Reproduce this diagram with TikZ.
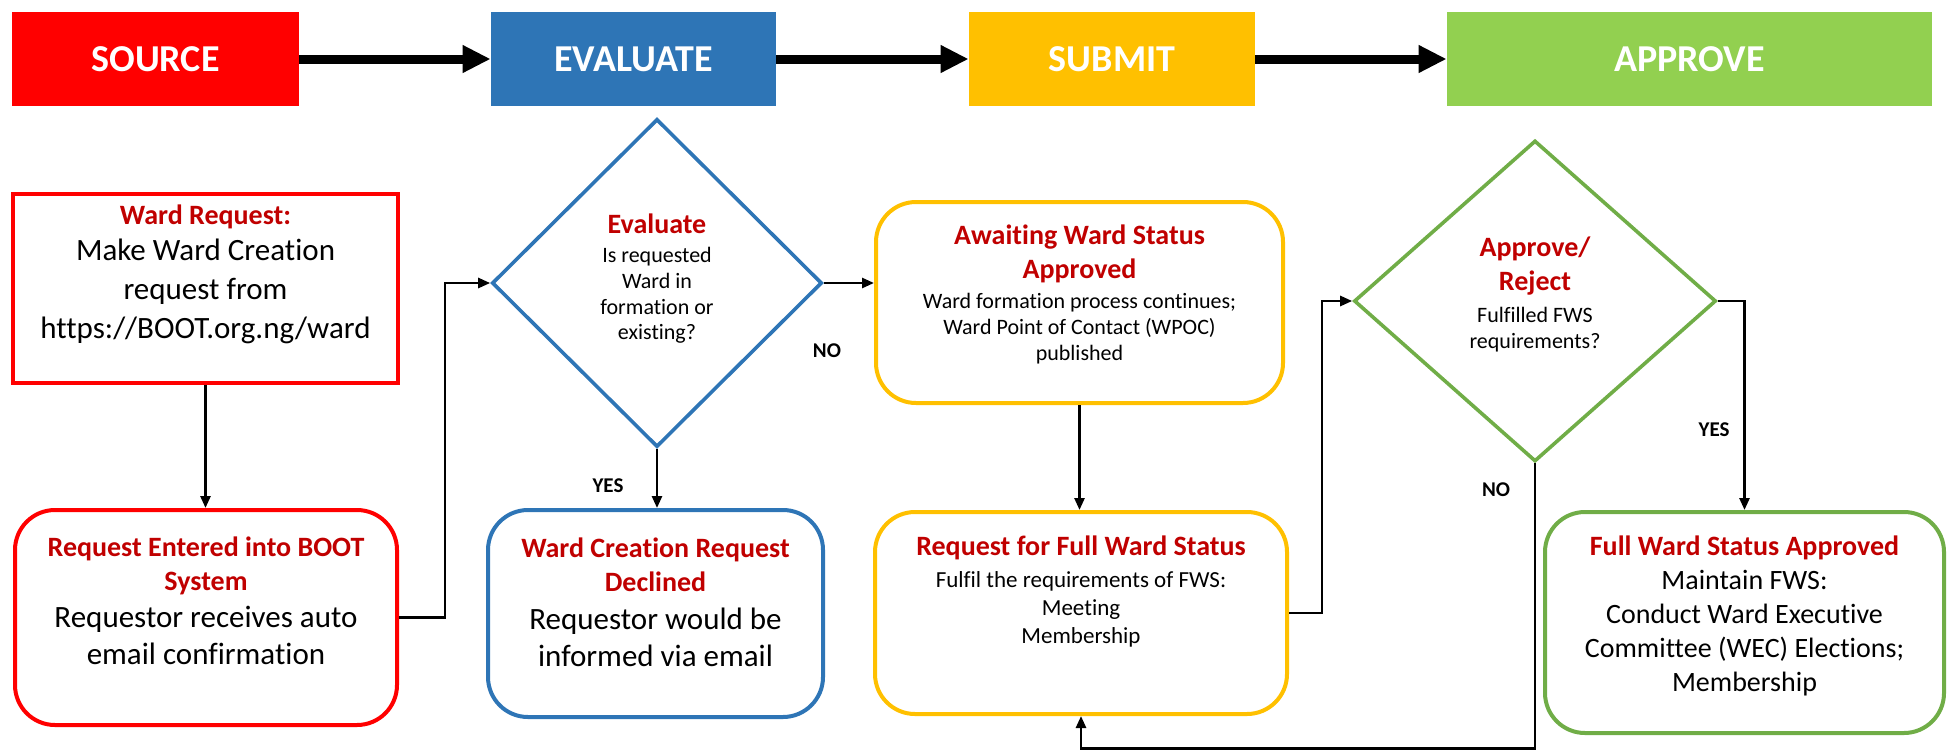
\documentclass[tikz,border=0pt]{standalone}
\usepackage{fontspec}
\setmainfont{Carlito}[Ligatures=NoCommon]
\usetikzlibrary{arrows.meta,shapes.geometric}

\definecolor{srcred}{HTML}{FF0000}
\definecolor{ttlred}{HTML}{C00000}
\definecolor{evalblue}{HTML}{2E75B6}
\definecolor{subgold}{HTML}{FFC000}
\definecolor{apprgreen}{HTML}{92D050}
\definecolor{linegreen}{HTML}{70AD47}

\newcommand{\ttl}[1]{{\fontsize{14}{17}\selectfont\bfseries\color{ttlred}#1}}

\tikzset{
  stage/.style={fill=#1, minimum height=47pt, inner sep=0pt, text=white, font=\fontsize{19}{23}\selectfont\bfseries},
  reqbox/.style={draw=#1, line width=2pt, align=center, inner sep=0pt},
  roundbox/.style={reqbox=#1, rounded corners=20pt},
  decision/.style={draw=#1, line width=1.8pt, diamond, align=center, inner sep=0pt, font=\fontsize{11}{13}\selectfont},
  conn/.style={line width=1.3pt, -{Triangle[length=6pt,width=5pt]}},
  phase/.style={line width=4.5pt, -{Triangle[length=14pt,width=13pt]}},
  yesno/.style={font=\fontsize{10.5}{12}\selectfont\bfseries, inner sep=0pt}
}

\begin{document}
\begin{tikzpicture}[x=0.5pt, y=-0.5pt]
    \useasboundingbox (0,0) rectangle (1948,750);

    % stages
    \node [stage=srcred, minimum width=143.5pt] (source) at (155.5,59) {SOURCE};
    \node [stage=evalblue, minimum width=142.5pt] (evaluate) at (633.5,59) {EVALUATE};
    \node [stage=subgold, minimum width=143pt] (submit) at (1112,59) {SUBMIT};
    \node [stage=apprgreen, minimum width=242.5pt] (approve) at (1689.5,59) {APPROVE};

    \draw [phase] (source) -- (evaluate);
    \draw [phase] (evaluate) -- (submit);
    \draw [phase] (submit) -- (approve);

    % source column
    \node [reqbox=srcred, minimum width=192.5pt, minimum height=94.5pt, font=\fontsize{15.5}{19.5}\selectfont, text depth=17pt] (wreq) at (205.5,288.5)
        {\ttl{Ward Request:}\\[-1.5pt] Make Ward Creation\\ request from\\ https://BOOT.org.ng/ward};
    \node [roundbox=srcred, minimum width=191pt, minimum height=107.5pt, font=\fontsize{15.5}{18.5}\selectfont, text depth=17.3pt] (rentr) at (206,617.5)
        {\ttl{Request Entered into BOOT}\\[-1.5pt] \ttl{System}\\ Requestor receives auto\\ email confirmation};

    % evaluate column
    \node [decision=evalblue, minimum width=165pt, minimum height=164pt, text depth=6.4pt] (eval) at (657,283)
        {\ttl{Evaluate}\\[1.75pt] Is requested\\ Ward in\\ formation or\\[-0.5pt] existing?};
    \node [roundbox=evalblue, minimum width=167.5pt, minimum height=103.5pt, font=\fontsize{15.5}{18.5}\selectfont, text depth=11pt] (decl) at (655.5,613.5)
        {\ttl{Ward Creation Request}\\[-1.5pt] \ttl{Declined}\\[0.5pt] Requestor would be\\ informed via email};

    % submit column
    \node [roundbox=subgold, minimum width=203.5pt, minimum height=100.5pt, font=\fontsize{11}{13}\selectfont, text depth=9.5pt] (await) at (1079.5,302.5)
        {\ttl{Awaiting Ward Status}\\[4pt] \ttl{Approved}\\[2pt] Ward formation process continues;\\ Ward Point of Contact (WPOC)\\ published};
    \node [roundbox=subgold, minimum width=206pt, minimum height=101pt, font=\fontsize{11.5}{14}\selectfont, text depth=23.5pt] (freq) at (1081,613)
        {\ttl{Request for Full Ward Status}\\[2pt] Fulfil the requirements of FWS:\\ Meeting\\ Membership};

    % approve column
    \node [decision=linegreen, minimum width=181pt, minimum height=160.5pt, text depth=8.4pt] (appr) at (1535,301)
        {\ttl{Approve/}\\[4pt] \ttl{Reject}\\[3pt] Fulfilled FWS\\ requirements?};
    \node [roundbox=linegreen, minimum width=199.5pt, minimum height=110.5pt, font=\fontsize{14}{17}\selectfont, text depth=9pt] (fdone) at (1744.5,622.5)
        {\ttl{Full Ward Status Approved}\\ Maintain FWS:\\ Conduct Ward Executive\\ Committee (WEC) Elections;\\ Membership};

    % connectors
    \draw [conn] (wreq.south) -- (wreq.south |- rentr.north);
    \draw [conn] (rentr.east) -- ++(46,0) |- (eval.west);
    \draw [conn] (eval.south) -- (eval.south |- decl.north);
    \draw [conn] (eval.east) -- (eval.east -| await.west);
    \draw [conn] (await.south) -- (await.south |- freq.north);
    \draw [conn] (freq.east) -- ++(33,0) |- (appr.west);
    \draw [conn] (appr.east) -| (fdone.north);
    % back to request
    \draw [conn] (appr.south) -- ++(0,285) -| (freq.south);

    \node [yesno] (yes1) at (608,486) {YES};
    \node [yesno] (no1) at (827,351) {NO};
    \node [yesno] (yes2) at (1714,430) {YES};
    \node [yesno] (no2) at (1496,490) {NO};

\end{tikzpicture}
\end{document}
